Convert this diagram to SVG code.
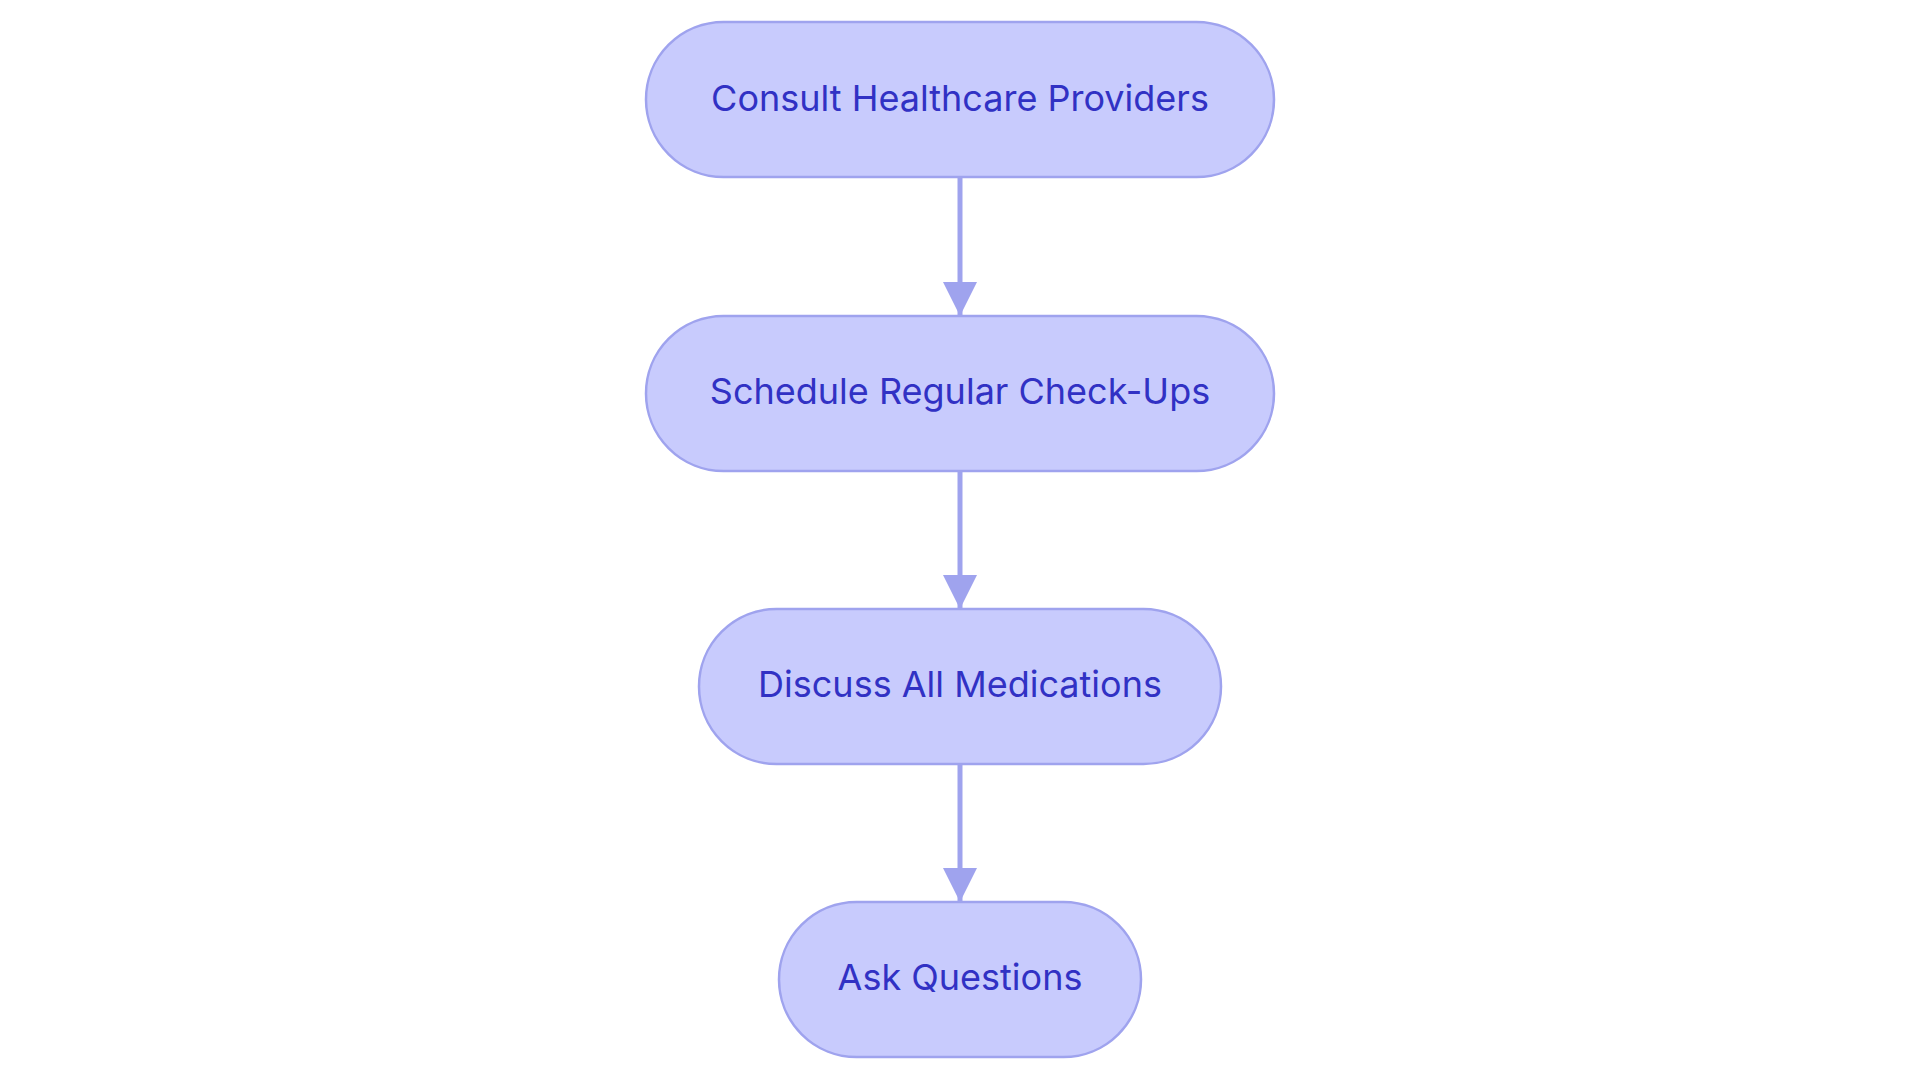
<svg xmlns="http://www.w3.org/2000/svg" width="1920" height="1083" viewBox="0 0 1920 1083">
<style>
.n{fill:#c8cbfd;stroke:#9fa3ee;stroke-width:2.5}
.t{font-family:Inter,"Liberation Sans",sans-serif;font-size:36px;fill:#3131c4;text-anchor:middle;dominant-baseline:central}
.e{stroke:#9fa3ee;stroke-width:5;fill:none}
</style>
<defs><marker id="a" markerUnits="userSpaceOnUse" markerWidth="34" markerHeight="34" refX="34" refY="17" orient="auto"><path d="M0,0L34,17L0,34z" fill="#9fa3ee"/></marker></defs>
<rect width="1920" height="1083" fill="#fff"/>
<g id="edges">
<line class="e" x1="960" y1="178" x2="960" y2="316" marker-end="url(#a)"/>
<line class="e" x1="960" y1="471" x2="960" y2="609" marker-end="url(#a)"/>
<line class="e" x1="960" y1="765" x2="960" y2="902" marker-end="url(#a)"/>
</g>
<g id="n1"><rect class="n" x="646" y="22" width="628" height="155" rx="77.5"/><text class="t" x="960" y="98">Consult Healthcare Providers</text></g>
<g id="n2"><rect class="n" x="646" y="316" width="628" height="155" rx="77.5"/><text class="t" x="960" y="391">Schedule Regular Check-Ups</text></g>
<g id="n3"><rect class="n" x="699" y="609" width="522" height="155" rx="77.5"/><text class="t" x="960" y="684">Discuss All Medications</text></g>
<g id="n4"><rect class="n" x="779" y="902" width="362" height="155" rx="77.5"/><text class="t" x="960" y="977">Ask Questions</text></g>
</svg>
